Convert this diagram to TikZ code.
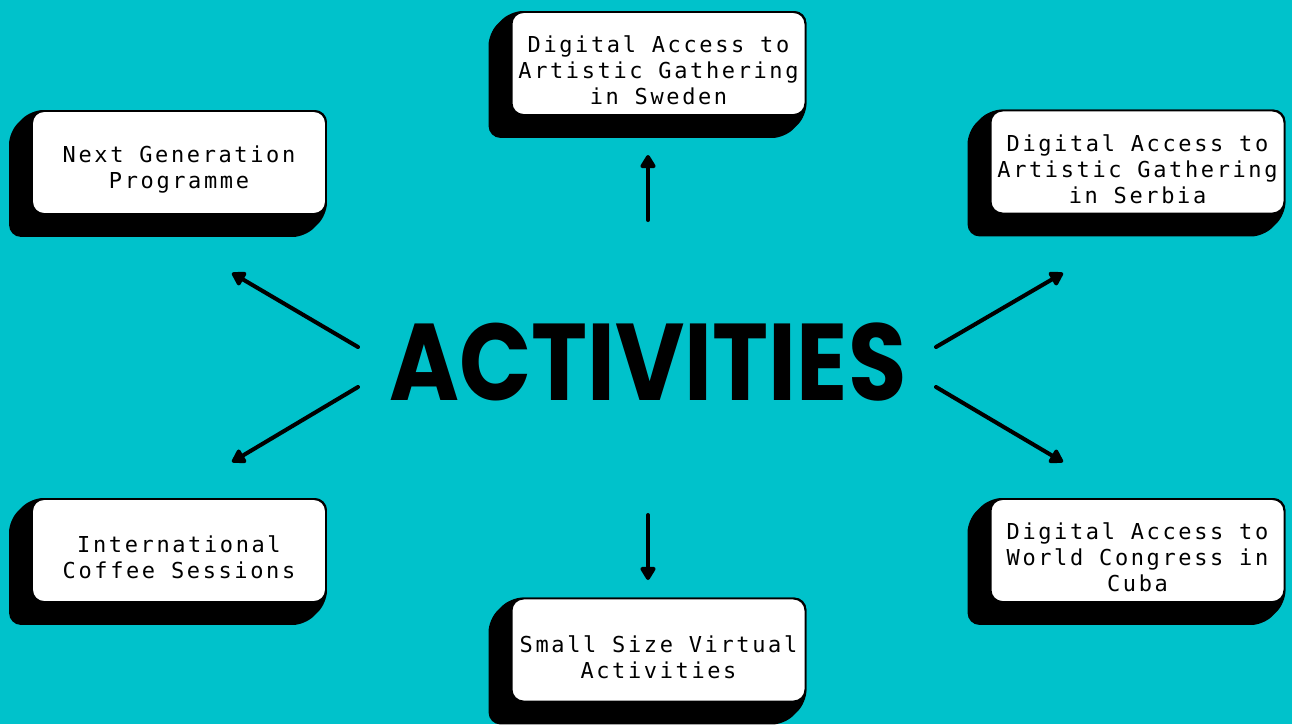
\documentclass[tikz,border=0pt]{standalone}
\usepackage{fontspec}
\usepackage{graphicx}
\usetikzlibrary{calc,arrows.meta,backgrounds}
\newfontfamily\monofont[LetterSpace=12]{DejaVu Sans Mono}
\newfontfamily\titlefont{Poppins}
\definecolor{turquoise}{HTML}{00C2CB}

\tikzset{
  carte/.style={draw=black, line width=1.1pt, fill=white, rounded corners=0.24cm,
    minimum width=5.88cm, minimum height=2.06cm, inner sep=0pt},
  texte/.style={inner sep=0pt, align=center, yshift=-0.14cm,
    font=\monofont\fontsize{12.5}{14.7}\selectfont},
  ombre/.style={fill=black, rounded corners=0.24cm},
  fleche/.style={line width=2.3pt, line cap=round, -{Triangle[length=0.3cm,width=0.34cm,round]}}
}

% EXTRUSION NOIRE SOUS UNE CARTE
\newcommand{\extrusion}[1]{%
  \fill[ombre] (#1.north west) -- (#1.north east) -- (#1.south east)
    -- ($(#1.south east)+(-22,22)$) -- ($(#1.south west)+(-22,22)$)
    -- ($(#1.north west)+(-22,22)$) -- cycle;}

\begin{document}
\begin{tikzpicture}[x=0.02cm, y=-0.02cm]
  \useasboundingbox (0,0) rectangle (1292,724);

      % CARTES
      \node[carte] (nextgen) at (179,162.5) {};
      \node[carte] (sweden) at (658.5,63.5) {};
      \node[carte] (serbia) at (1137.5,162) {};
      \node[carte] (coffee) at (179,550.5) {};
      \node[carte] (small) at (658.5,650) {};
      \node[carte] (cuba) at (1137.5,550.5) {};

      % TEXTES DES CARTES
      \node[texte] (nextgen-t) at (nextgen) {Next Generation\\Programme};
      \node[texte] (sweden-t) at (sweden) {Digital Access to\\Artistic Gathering\\in Sweden};
      \node[texte] (serbia-t) at (serbia) {Digital Access to\\Artistic Gathering\\in Serbia};
      \node[texte] (coffee-t) at (coffee) {International\\Coffee Sessions};
      \node[texte] (small-t) at (small) {Small Size Virtual\\Activities};
      \node[texte] (cuba-t) at (cuba) {Digital Access to\\World Congress in\\Cuba};

      % TITRE
      \node (act) at (648,362) {\titlefont\bfseries\fontsize{54}{60}\selectfont\scalebox{1}[1.15]{ACTIVITIES}};

      % FOND ET OMBRES
      \begin{pgfonlayer}{background}
        \fill[turquoise] (0,0) rectangle (1292,724);
        \extrusion{nextgen}
        \extrusion{sweden}
        \extrusion{serbia}
        \extrusion{coffee}
        \extrusion{small}
        \extrusion{cuba}
      \end{pgfonlayer}

      % POINTS DES FLECHES
      \coordinate (dNG) at (358,347);
      \coordinate (aNG) at (232,273);
      \coordinate (dCO) at (358,387);
      \coordinate (aCO) at (232,462);
      \coordinate (dSE) at (936,347);
      \coordinate (aSE) at (1063,273);
      \coordinate (dCU) at (936,387);
      \coordinate (aCU) at (1063,462);
      \coordinate (dSW) at (648,220);
      \coordinate (aSW) at (648,155);
      \coordinate (dSM) at (648,515);
      \coordinate (aSM) at (648,580);

      % FLECHES
      \draw[fleche] (dNG) -- (aNG);
      \draw[fleche] (dCO) -- (aCO);
      \draw[fleche] (dSE) -- (aSE);
      \draw[fleche] (dCU) -- (aCU);
      \draw[fleche] (dSW) -- (aSW);
      \draw[fleche] (dSM) -- (aSM);
\end{tikzpicture}
\end{document}
